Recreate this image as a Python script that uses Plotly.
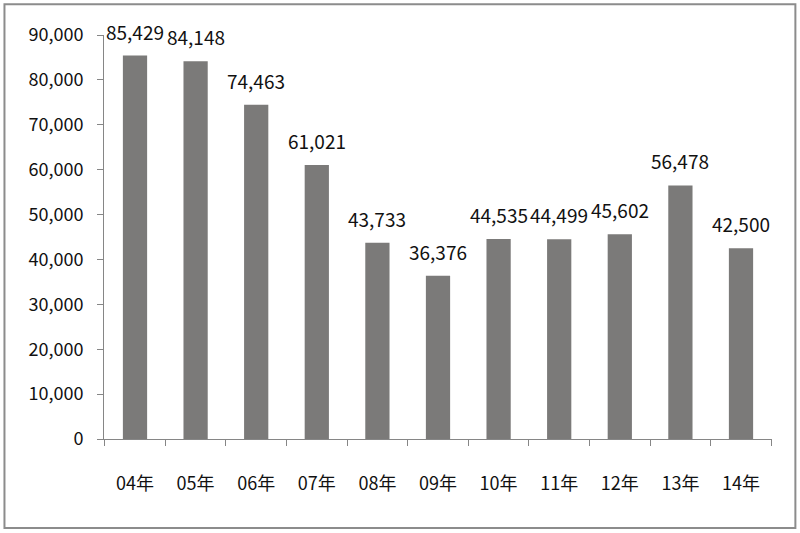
import plotly.graph_objects as go

years = ["04年", "05年", "06年", "07年", "08年", "09年", "10年", "11年", "12年", "13年", "14年"]
values = [85429, 84148, 74463, 61021, 43733, 36376, 44535, 44499, 45602, 56478, 42500]
y_ticks = list(range(0, 90001, 10000))

FONT = "Liberation Sans Narrow, Noto Sans CJK SC, sans-serif"

fig = go.Figure()
fig.add_trace(go.Bar(
    x=years, y=values,
    marker=dict(color="#7b7a79", line=dict(width=0)),
    hoverinfo="x+y",
))

# value labels above bars
for yr, v in zip(years, values):
    fig.add_annotation(
        x=yr, y=v, text=f"{v:,}", showarrow=False,
        yanchor="bottom", yshift=9,
        font=dict(family=FONT, size=19, color="#111111"),
    )

fig.update_layout(
    width=800, height=533,
    margin=dict(l=104, r=28, t=35, b=94),
    paper_bgcolor="white", plot_bgcolor="white",
    bargap=0.6,
    showlegend=False,
    font=dict(family=FONT, size=18, color="#111111"),
    shapes=[dict(type="rect", xref="paper", yref="paper",
                 x0=-0.149, x1=1.035, y0=-0.22, y1=1.076,
                 line=dict(color="#8c8c8c", width=2), fillcolor="rgba(0,0,0,0)",
                 layer="below")],
)
fig.update_xaxes(
    showline=True, linecolor="#868686", linewidth=1,
    ticks="outside", tickson="boundaries", ticklen=6, tickcolor="#868686",
    ticklabelstandoff=28, showgrid=False,
)
fig.update_yaxes(
    range=[0, 90000], tickvals=y_ticks, tickformat=",",
    showline=True, linecolor="#868686", linewidth=1,
    ticks="outside", ticklen=6, tickcolor="#868686",
    ticklabelstandoff=10, showgrid=False, zeroline=False,
)

fig.write_html("out.html", config={"displayModeBar": False},
               post_script="document.body.style.margin='0';")
